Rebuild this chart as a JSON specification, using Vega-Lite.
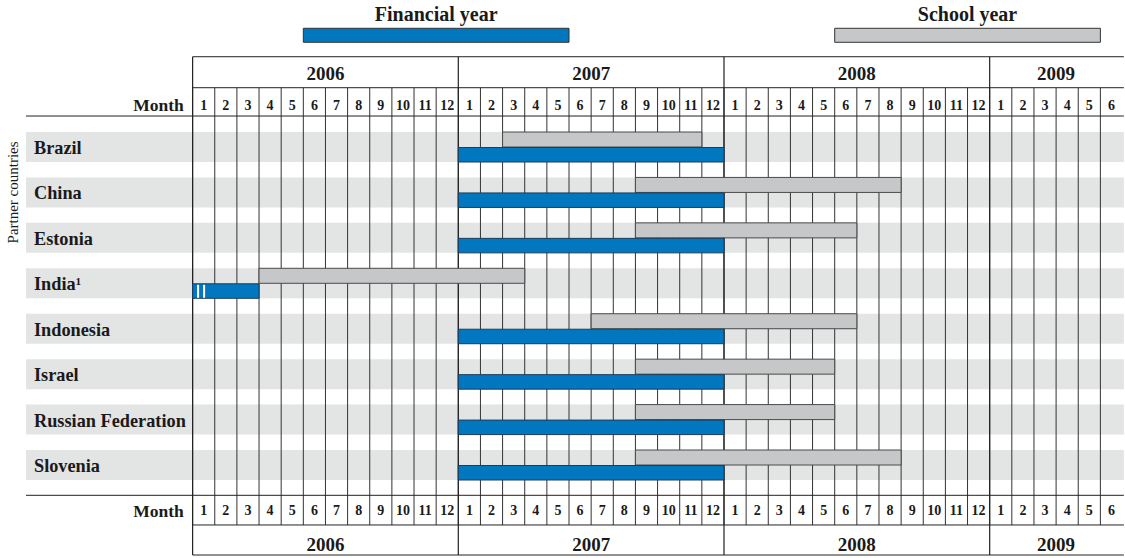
{
  "$schema": "https://vega.github.io/schema/vega-lite/v6.json",
  "width": 1125,
  "height": 558,
  "padding": 0,
  "autosize": {"type": "fit", "contains": "padding"},
  "background": "white",
  "config": {
    "view": {"stroke": null},
    "text": {"font": "Liberation Serif", "color": "#1a1a1a"}
  },
  "datasets": {
    "countries": [
      {"country": "Brazil", "label": "Brazil", "row": 0, "finStart": 12, "finEnd": 24, "schStart": 14, "schEnd": 23},
      {"country": "China", "label": "China", "row": 1, "finStart": 12, "finEnd": 24, "schStart": 20, "schEnd": 32},
      {"country": "Estonia", "label": "Estonia", "row": 2, "finStart": 12, "finEnd": 24, "schStart": 20, "schEnd": 30},
      {"country": "India", "label": "India¹", "row": 3, "finStart": 0, "finEnd": 3, "schStart": 3, "schEnd": 15},
      {"country": "Indonesia", "label": "Indonesia", "row": 4, "finStart": 12, "finEnd": 24, "schStart": 18, "schEnd": 30},
      {"country": "Israel", "label": "Israel", "row": 5, "finStart": 12, "finEnd": 24, "schStart": 20, "schEnd": 29},
      {"country": "Russian Federation", "label": "Russian Federation", "row": 6, "finStart": 12, "finEnd": 24, "schStart": 20, "schEnd": 29},
      {"country": "Slovenia", "label": "Slovenia", "row": 7, "finStart": 12, "finEnd": 24, "schStart": 20, "schEnd": 32}
    ],
    "months": [
      {"i": 0, "year": "2006", "month": 1}, {"i": 1, "year": "2006", "month": 2}, {"i": 2, "year": "2006", "month": 3},
      {"i": 3, "year": "2006", "month": 4}, {"i": 4, "year": "2006", "month": 5}, {"i": 5, "year": "2006", "month": 6},
      {"i": 6, "year": "2006", "month": 7}, {"i": 7, "year": "2006", "month": 8}, {"i": 8, "year": "2006", "month": 9},
      {"i": 9, "year": "2006", "month": 10}, {"i": 10, "year": "2006", "month": 11}, {"i": 11, "year": "2006", "month": 12},
      {"i": 12, "year": "2007", "month": 1}, {"i": 13, "year": "2007", "month": 2}, {"i": 14, "year": "2007", "month": 3},
      {"i": 15, "year": "2007", "month": 4}, {"i": 16, "year": "2007", "month": 5}, {"i": 17, "year": "2007", "month": 6},
      {"i": 18, "year": "2007", "month": 7}, {"i": 19, "year": "2007", "month": 8}, {"i": 20, "year": "2007", "month": 9},
      {"i": 21, "year": "2007", "month": 10}, {"i": 22, "year": "2007", "month": 11}, {"i": 23, "year": "2007", "month": 12},
      {"i": 24, "year": "2008", "month": 1}, {"i": 25, "year": "2008", "month": 2}, {"i": 26, "year": "2008", "month": 3},
      {"i": 27, "year": "2008", "month": 4}, {"i": 28, "year": "2008", "month": 5}, {"i": 29, "year": "2008", "month": 6},
      {"i": 30, "year": "2008", "month": 7}, {"i": 31, "year": "2008", "month": 8}, {"i": 32, "year": "2008", "month": 9},
      {"i": 33, "year": "2008", "month": 10}, {"i": 34, "year": "2008", "month": 11}, {"i": 35, "year": "2008", "month": 12},
      {"i": 36, "year": "2009", "month": 1}, {"i": 37, "year": "2009", "month": 2}, {"i": 38, "year": "2009", "month": 3},
      {"i": 39, "year": "2009", "month": 4}, {"i": 40, "year": "2009", "month": 5}, {"i": 41, "year": "2009", "month": 6}
    ]
  },
  "layer": [
    {
      "data": {"name": "countries"},
      "mark": {"type": "rect", "fill": "#E3E4E4", "yOffset": -15, "y2Offset": 15},
      "encoding": {
        "x": {"datum": -7.527, "type": "quantitative", "scale": {"domain": [-8.7, 42.067], "nice": false, "zero": false}, "axis": null},
        "x2": {"datum": 42.06},
        "y": {"field": "row", "type": "quantitative", "scale": {"domain": [-3.2358, 9.0469], "nice": false, "zero": false, "reverse": true}, "axis": null},
        "y2": {"field": "row"}
      }
    },
    {
      "data": {"name": "months"},
      "mark": {"type": "rule", "stroke": "#333333", "strokeWidth": 1},
      "encoding": {
        "x": {"field": "i", "type": "quantitative", "scale": {"domain": [-8.7, 42.067], "nice": false, "zero": false}, "axis": null},
        "y": {"datum": -1.305, "type": "quantitative", "scale": {"domain": [-3.2358, 9.0469], "nice": false, "zero": false, "reverse": true}, "axis": null},
        "y2": {"datum": 8.32}
      }
    },
    {
      "data": {"name": "months"},
      "transform": [{"filter": "datum.month === 1"}],
      "mark": {"type": "rule", "stroke": "#222222", "strokeWidth": 1.2},
      "encoding": {
        "x": {"field": "i", "type": "quantitative", "scale": {"domain": [-8.7, 42.067], "nice": false, "zero": false}, "axis": null},
        "y": {"datum": -1.987, "type": "quantitative", "scale": {"domain": [-3.2358, 9.0469], "nice": false, "zero": false, "reverse": true}, "axis": null},
        "y2": {"datum": 8.981}
      }
    },
    {
      "data": {"values": [{"x": 0, "y": -1.987}, {"x": 0, "y": -1.305}, {"x": -7.527, "y": -0.682}, {"x": -7.527, "y": 7.667}, {"x": 0, "y": 8.32}, {"x": 0, "y": 8.981}]},
      "mark": {"type": "rule", "stroke": "#222222", "strokeWidth": 1},
      "encoding": {
        "x": {"field": "x", "type": "quantitative", "scale": {"domain": [-8.7, 42.067], "nice": false, "zero": false}, "axis": null},
        "x2": {"datum": 42.06},
        "y": {"field": "y", "type": "quantitative", "scale": {"domain": [-3.2358, 9.0469], "nice": false, "zero": false, "reverse": true}, "axis": null}
      }
    },
    {
      "data": {"name": "countries"},
      "mark": {"type": "rect", "fill": "#C6C7C9", "stroke": "#4a4a4a", "strokeWidth": 1, "yOffset": -15, "y2Offset": 0},
      "encoding": {
        "x": {"field": "schStart", "type": "quantitative", "scale": {"domain": [-8.7, 42.067], "nice": false, "zero": false}, "axis": null},
        "x2": {"field": "schEnd"},
        "y": {"field": "row", "type": "quantitative", "scale": {"domain": [-3.2358, 9.0469], "nice": false, "zero": false, "reverse": true}, "axis": null},
        "y2": {"field": "row"}
      }
    },
    {
      "data": {"name": "countries"},
      "mark": {"type": "rect", "fill": "#0077BE", "stroke": "#1c3d5c", "strokeWidth": 1, "yOffset": 0.5, "y2Offset": 15},
      "encoding": {
        "x": {"field": "finStart", "type": "quantitative", "scale": {"domain": [-8.7, 42.067], "nice": false, "zero": false}, "axis": null},
        "x2": {"field": "finEnd"},
        "y": {"field": "row", "type": "quantitative", "scale": {"domain": [-3.2358, 9.0469], "nice": false, "zero": false, "reverse": true}, "axis": null},
        "y2": {"field": "row"}
      }
    },
    {
      "data": {"name": "countries"},
      "transform": [{"filter": "datum.country === 'India'"}],
      "mark": {"type": "rule", "stroke": "white", "strokeWidth": 2, "yOffset": 1.5, "y2Offset": 14.5},
      "encoding": {
        "x": {"datum": 0.248, "type": "quantitative", "scale": {"domain": [-8.7, 42.067], "nice": false, "zero": false}, "axis": null},
        "y": {"field": "row", "type": "quantitative", "scale": {"domain": [-3.2358, 9.0469], "nice": false, "zero": false, "reverse": true}, "axis": null},
        "y2": {"field": "row"}
      }
    },
    {
      "data": {"name": "countries"},
      "transform": [{"filter": "datum.country === 'India'"}],
      "mark": {"type": "rule", "stroke": "white", "strokeWidth": 2, "yOffset": 1.5, "y2Offset": 14.5},
      "encoding": {
        "x": {"datum": 0.519, "type": "quantitative", "scale": {"domain": [-8.7, 42.067], "nice": false, "zero": false}, "axis": null},
        "y": {"field": "row", "type": "quantitative", "scale": {"domain": [-3.2358, 9.0469], "nice": false, "zero": false, "reverse": true}, "axis": null},
        "y2": {"field": "row"}
      }
    },
    {
      "data": {"name": "months"},
      "mark": {"type": "text", "fontWeight": "bold", "fontSize": 19, "align": "center", "baseline": "alphabetic", "dx": 11.08},
      "encoding": {
        "x": {"aggregate": "mean", "field": "i", "type": "quantitative", "scale": {"domain": [-8.7, 42.067], "nice": false, "zero": false}, "axis": null},
        "y": {"datum": -1.475, "type": "quantitative", "scale": {"domain": [-3.2358, 9.0469], "nice": false, "zero": false, "reverse": true}, "axis": null},
        "text": {"field": "year", "type": "nominal"}
      }
    },
    {
      "data": {"name": "months"},
      "mark": {"type": "text", "fontWeight": "bold", "fontSize": 19, "align": "center", "baseline": "alphabetic", "dx": 11.08},
      "encoding": {
        "x": {"aggregate": "mean", "field": "i", "type": "quantitative", "scale": {"domain": [-8.7, 42.067], "nice": false, "zero": false}, "axis": null},
        "y": {"datum": 8.886, "type": "quantitative", "scale": {"domain": [-3.2358, 9.0469], "nice": false, "zero": false, "reverse": true}, "axis": null},
        "text": {"field": "year", "type": "nominal"}
      }
    },
    {
      "data": {"name": "months"},
      "mark": {"type": "text", "fontWeight": "bold", "fontSize": 14, "align": "center", "baseline": "alphabetic", "dx": 11.08},
      "encoding": {
        "x": {"field": "i", "type": "quantitative", "scale": {"domain": [-8.7, 42.067], "nice": false, "zero": false}, "axis": null},
        "y": {"datum": -0.825, "type": "quantitative", "scale": {"domain": [-3.2358, 9.0469], "nice": false, "zero": false, "reverse": true}, "axis": null},
        "text": {"field": "month", "type": "nominal"}
      }
    },
    {
      "data": {"name": "months"},
      "mark": {"type": "text", "fontWeight": "bold", "fontSize": 14, "align": "center", "baseline": "alphabetic", "dx": 11.08},
      "encoding": {
        "x": {"field": "i", "type": "quantitative", "scale": {"domain": [-8.7, 42.067], "nice": false, "zero": false}, "axis": null},
        "y": {"datum": 8.103, "type": "quantitative", "scale": {"domain": [-3.2358, 9.0469], "nice": false, "zero": false, "reverse": true}, "axis": null},
        "text": {"field": "month", "type": "nominal"}
      }
    },
    {
      "data": {"values": [{"label": "Month", "y": -0.8}, {"label": "Month", "y": 8.139}]},
      "mark": {"type": "text", "fontWeight": "bold", "fontSize": 17.5, "align": "right", "baseline": "alphabetic"},
      "encoding": {
        "x": {"datum": -0.397, "type": "quantitative", "scale": {"domain": [-8.7, 42.067], "nice": false, "zero": false}, "axis": null},
        "y": {"field": "y", "type": "quantitative", "scale": {"domain": [-3.2358, 9.0469], "nice": false, "zero": false, "reverse": true}, "axis": null},
        "text": {"field": "label", "type": "nominal"}
      }
    },
    {
      "data": {"name": "countries"},
      "mark": {"type": "text", "fontWeight": "bold", "fontSize": 18.3, "align": "left", "baseline": "alphabetic", "dy": 7},
      "encoding": {
        "x": {"datum": -7.166, "type": "quantitative", "scale": {"domain": [-8.7, 42.067], "nice": false, "zero": false}, "axis": null},
        "y": {"field": "row", "type": "quantitative", "scale": {"domain": [-3.2358, 9.0469], "nice": false, "zero": false, "reverse": true}, "axis": null},
        "text": {"field": "label", "type": "nominal"}
      }
    },
    {
      "data": {"values": [{"label": "Partner countries"}]},
      "mark": {"type": "text", "fontSize": 15, "align": "center", "baseline": "middle", "angle": 270},
      "encoding": {
        "x": {"datum": -8.114, "type": "quantitative", "scale": {"domain": [-8.7, 42.067], "nice": false, "zero": false}, "axis": null},
        "y": {"datum": 1.0, "type": "quantitative", "scale": {"domain": [-3.2358, 9.0469], "nice": false, "zero": false, "reverse": true}, "axis": null},
        "text": {"field": "label", "type": "nominal"}
      }
    },
    {
      "data": {"values": [{"kind": "Financial year", "start": 5, "end": 17}, {"kind": "School year", "start": 29, "end": 41}]},
      "mark": {"type": "rect", "stroke": "#333333", "strokeWidth": 1},
      "encoding": {
        "x": {"field": "start", "type": "quantitative", "scale": {"domain": [-8.7, 42.067], "nice": false, "zero": false}, "axis": null},
        "x2": {"field": "end"},
        "y": {"datum": -2.613, "type": "quantitative", "scale": {"domain": [-3.2358, 9.0469], "nice": false, "zero": false, "reverse": true}, "axis": null},
        "y2": {"datum": -2.305},
        "fill": {"field": "kind", "type": "nominal", "scale": {"domain": ["Financial year", "School year"], "range": ["#0077BE", "#C6C7C9"]}, "legend": null}
      }
    },
    {
      "data": {"values": [{"kind": "Financial year", "mid": 11}, {"kind": "School year", "mid": 35}]},
      "mark": {"type": "text", "fontWeight": "bold", "fontSize": 20, "align": "center", "baseline": "alphabetic"},
      "encoding": {
        "x": {"field": "mid", "type": "quantitative", "scale": {"domain": [-8.7, 42.067], "nice": false, "zero": false}, "axis": null},
        "y": {"datum": -2.774, "type": "quantitative", "scale": {"domain": [-3.2358, 9.0469], "nice": false, "zero": false, "reverse": true}, "axis": null},
        "text": {"field": "kind", "type": "nominal"}
      }
    }
  ]
}
